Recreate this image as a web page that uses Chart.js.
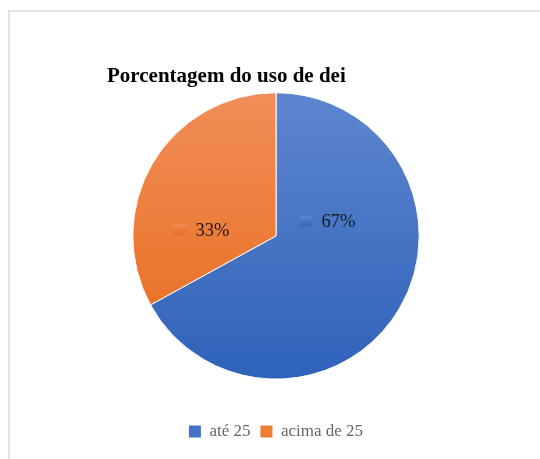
<!DOCTYPE html>
<html>
<head>
<meta charset="utf-8">
<script src="https://cdn.jsdelivr.net/npm/chart.js@4"></script>
<style>
  html, body { margin: 0; padding: 0; background: #fff; overflow: hidden; }
  #frame { position: absolute; left: 8px; top: 10px; width: 600px; height: 520px; border: 2px solid #dfe3ea; }
  #wrap { position: absolute; left: 0; top: 0; width: 540px; height: 459px; }
</style>
</head>
<body>
<div id="frame"></div>
<div id="wrap"><canvas id="pieChart"></canvas></div>
<script>
// ----data---------
const categories = ["até 25", "acima de 25"];
const percentages = [67, 33];
const baseColors = ["#4472C4", "#ED7D31"];
const topColors = ["#5E86CF", "#F18E58"];
const bottomColors = ["#2F62BA", "#E86A1A"];

// vertical gradient per slice, like the office chart
function sliceFill(context) {
  const chart = context.chart;
  const area = chart.chartArea;
  const i = context.dataIndex;
  if (!area || i === undefined) return baseColors[i] || baseColors[0];
  const g = chart.ctx.createLinearGradient(0, area.top, 0, area.bottom);
  g.addColorStop(0, topColors[i]);
  g.addColorStop(1, bottomColors[i]);
  return g;
}

// labels inside slices with a little colour key
const sliceLabels = {
  id: "sliceLabels",
  afterDatasetsDraw(chart) {
    const ctx = chart.ctx;
    const meta = chart.getDatasetMeta(0);
    const spots = [[0.36, -0.10], [-0.52, -0.04]];
    ctx.save();
    ctx.font = "18.5px 'Liberation Serif', serif";
    ctx.textBaseline = "middle";
    meta.data.forEach((arc, i) => {
      const r = arc.outerRadius;
      const txt = percentages[i] + "%";
      const tw = ctx.measureText(txt).width;
      const groupW = 12 + 10 + tw;
      const cx = arc.x + spots[i][0] * r;
      const cy = arc.y + spots[i][1] * r;
      const left = cx - groupW / 2;
      const g = ctx.createLinearGradient(0, cy - 6, 0, cy + 6);
      g.addColorStop(0, topColors[i]);
      g.addColorStop(1, bottomColors[i]);
      ctx.fillStyle = g;
      ctx.fillRect(left, cy - 6, 12, 11);
      ctx.fillStyle = "#1a1a1a";
      ctx.textAlign = "left";
      ctx.fillText(txt, left + 22, cy + 1);
    });
    ctx.restore();
  },
};

const pieCanvas = document.getElementById("pieChart");

const pieChart = new Chart(pieCanvas, {
  type: "pie",
  data: {
    labels: categories,
    datasets: [
      {
        label: "",
        data: percentages,
        backgroundColor: sliceFill,
        borderColor: "#ffffff",
        borderWidth: 1,
      },
    ],
  },
  options: {
    responsive: true,
    maintainAspectRatio: false,
    animation: false,
    layout: {
      padding: { left: 107, right: 95, top: 64, bottom: 9 },
    },
    plugins: {
      title: {
        display: true,
        text: "Porcentagem do uso de dei",
        align: "start",
        color: "#000",
        font: { family: "'Liberation Serif', serif", size: 21, weight: "bold" },
        padding: { top: 0, bottom: 3 },
      },
      legend: {
        display: true,
        position: "bottom",
        title: {
          display: true,
          text: "",
          font: { size: 12 },
          padding: { top: 19, bottom: 0 },
        },
        labels: {
          boxWidth: 12,
          boxHeight: 12,
          padding: 10,
          color: "#1a1a1a",
          font: { family: "'Liberation Serif', serif", size: 17 },
          generateLabels: () =>
            categories.map((c, i) => ({
              text: c,
              fillStyle: baseColors[i],
              strokeStyle: baseColors[i],
              lineWidth: 0,
              index: i,
            })),
        },
      },
      tooltip: {
        enabled: false,
      },
    },
  },
  plugins: [sliceLabels],
});
</script>
</body>
</html>
